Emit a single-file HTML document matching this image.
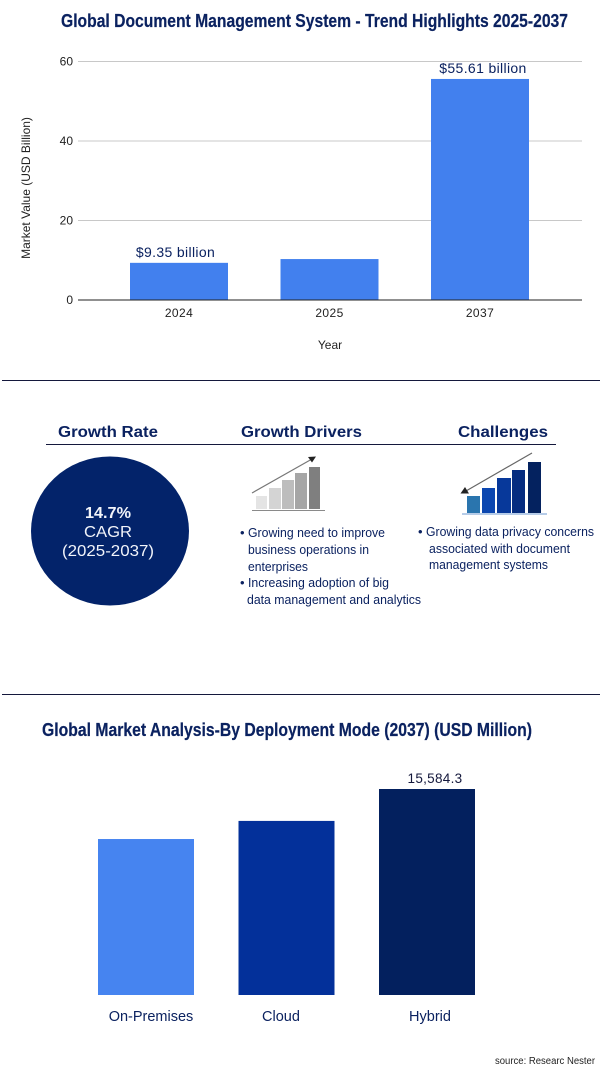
<!DOCTYPE html>
<html lang="en">
<head>
<meta charset="utf-8">
<title>Global Document Management System - Trend Highlights 2025-2037</title>
<style>
html,body{margin:0;padding:0;background:#fff;width:600px;height:1073px;overflow:hidden}
svg{display:block}
text{font-family:"Liberation Sans",Arial,sans-serif}
.navy{fill:#0b2260}
.head{font-weight:bold;font-size:16px;fill:#0b2260}
.title{font-weight:bold;font-size:18px;fill:#0b2260;stroke:#0b2260;stroke-width:.2px}
.body{font-size:13px;fill:#0b2260}
.tick{font-size:12px;fill:#222}
</style>
</head>
<body>
<svg id="page" xmlns="http://www.w3.org/2000/svg" width="600" height="1073" viewBox="0 0 600 1073">
  <rect x="0" y="0" width="600" height="1073" fill="#fff"/>
  <text class="title" x="61" y="27" textLength="507" lengthAdjust="spacingAndGlyphs">Global Document Management System - Trend Highlights 2025-2037</text>
  <g id="trend-chart"></g>

  <line x1="2" x2="600" y1="380.5" y2="380.5" stroke="#14183c" stroke-width="1"/>

  <text class="head" x="58" y="437" textLength="100" lengthAdjust="spacingAndGlyphs">Growth Rate</text>
  <text class="head" x="241" y="437" textLength="121" lengthAdjust="spacingAndGlyphs">Growth Drivers</text>
  <text class="head" x="458" y="437" textLength="90" lengthAdjust="spacingAndGlyphs">Challenges</text>
  <line x1="46" x2="556" y1="444.5" y2="444.5" stroke="#14183c" stroke-width="1"/>

  <ellipse cx="110" cy="531" rx="79" ry="74.5" fill="#03236a"/>
  <text x="85" y="518" font-size="16" font-weight="bold" fill="#f2f4fa" textLength="46" lengthAdjust="spacingAndGlyphs">14.7%</text>
  <text x="84" y="537" font-size="16" fill="#f2f4fa" textLength="48" lengthAdjust="spacingAndGlyphs">CAGR</text>
  <text x="62" y="556" font-size="16" fill="#f2f4fa" textLength="92" lengthAdjust="spacingAndGlyphs">(2025-2037)</text>

  <g>
    <rect x="256" y="496" width="11" height="13" fill="#e4e4e4"/>
    <rect x="269" y="488" width="12" height="21" fill="#d4d4d4"/>
    <rect x="282" y="480" width="12" height="29" fill="#bdbdbd"/>
    <rect x="295" y="473" width="12" height="36" fill="#a6a6a6"/>
    <rect x="309" y="467" width="11" height="42" fill="#7f7f7f"/>
    <line x1="252" x2="325" y1="510.5" y2="510.5" stroke="#8a8a8a" stroke-width="1"/>
    <line x1="252" y1="493" x2="312" y2="459" stroke="#777" stroke-width="1.2"/>
    <polygon points="316,456.500 308,457 312,462.500" fill="#222"/>
  </g>
  <g>
    <rect x="467" y="496" width="13" height="17" fill="#2a75ae"/>
    <rect x="482" y="488" width="13" height="25" fill="#0b46b0"/>
    <rect x="497" y="478" width="14" height="35" fill="#07389a"/>
    <rect x="512" y="470" width="13" height="43" fill="#052c80"/>
    <rect x="528" y="462" width="13" height="51" fill="#04225f"/>
    <line x1="462" x2="547" y1="514" y2="514" stroke="#9dbbe0" stroke-width="1.5"/>
    <line x1="532" y1="453" x2="466" y2="491" stroke="#666" stroke-width="1.2"/>
    <polygon points="460.500,493.500 469,493.500 465,487" fill="#222"/>
  </g>

  <g>
    <text class="body" x="240" y="537">•</text>
    <text class="body" x="248" y="537" textLength="137" lengthAdjust="spacingAndGlyphs">Growing need to improve</text>
    <text class="body" x="248" y="554" textLength="121" lengthAdjust="spacingAndGlyphs">business operations in</text>
    <text class="body" x="248" y="571" textLength="60" lengthAdjust="spacingAndGlyphs">enterprises</text>
    <text class="body" x="240" y="587">•</text>
    <text class="body" x="248" y="587" textLength="141" lengthAdjust="spacingAndGlyphs">Increasing adoption of big</text>
    <text class="body" x="247" y="604" textLength="174" lengthAdjust="spacingAndGlyphs">data management and analytics</text>
  </g>
  <g>
    <text class="body" x="418" y="536">•</text>
    <text class="body" x="426" y="536" textLength="168" lengthAdjust="spacingAndGlyphs">Growing data privacy concerns</text>
    <text class="body" x="429" y="553" textLength="141" lengthAdjust="spacingAndGlyphs">associated with document</text>
    <text class="body" x="429" y="569" textLength="119" lengthAdjust="spacingAndGlyphs">management systems</text>
  </g>

  <line x1="2" x2="600" y1="694.5" y2="694.5" stroke="#14183c" stroke-width="1"/>

  <text class="title" x="42" y="736" textLength="490" lengthAdjust="spacingAndGlyphs">Global Market Analysis-By Deployment Mode (2037) (USD Million)</text>
  <g id="deployment-chart"></g>

  <text x="495" y="1064" font-size="10" fill="#222" textLength="100" lengthAdjust="spacingAndGlyphs">source: Researc Nester</text>
</svg>
<script>
var trendYears = ['2024', '2025', '2037'];
var trendValues = [9.35, 10.3, 55.61];
var trendLabels = ['$9.35 billion', '', '$55.61 billion'];
var trendTicks = [0, 20, 40, 60];

var deploymentCategories = ['On-Premises', 'Cloud', 'Hybrid'];
var deploymentValues = [11800, 13170, 15584.3];
var deploymentLabels = ['', '', '15,584.3'];
var deploymentColors = ['#4684f0', '#03309a', '#03205e'];

var NS = 'http://www.w3.org/2000/svg';
function make(parent, tag, props, content) {
  var el = document.createElementNS(NS, tag);
  for (var k in props) el.setAttribute(k, props[k]);
  if (content !== undefined) el.textContent = content;
  parent.appendChild(el);
  return el;
}

/* Trend chart */
(function () {
  var g = document.getElementById('trend-chart');
  var left = 78, right = 582;
  function yScale(v) { return 300 - v * (300 - 61.5) / 60; }
  function xCenter(i) { return 179 + i * 150.5; }
  /* Printed labels sit slightly off-centre: first left of its bar, later ones right. */
  function labelX(i) { return xCenter(i) + (i === 0 ? -3.5 : 3); }
  var barWidth = 98;

  trendTicks.forEach(function (t) {
    if (t !== 0) {
      var grid = make(g, 'line', {x1: left, x2: right, y1: yScale(t), y2: yScale(t), stroke: '#c8c8c8', 'stroke-width': 1});
      
      
    }
    var label = make(g, 'text', {x: 73, y: yScale(t) + 4, 'text-anchor': 'end', 'class': 'tick'}, String(t));
    
    
  });

  trendValues.forEach(function (v, i) {
    var top = yScale(v);
    var bar = make(g, 'rect', {x: xCenter(i) - barWidth / 2, y: top, width: barWidth, height: 300 - top, fill: '#4280ee'});
    
    
    var tick = make(g, 'text', {x: xCenter(i), y: 317, 'text-anchor': 'middle', 'class': 'tick', 'letter-spacing': '0.4'}, trendYears[i]);
    
    
    if (trendLabels[i]) {
      var val = make(g, 'text', {x: labelX(i), y: top - 6, 'text-anchor': 'middle', 'font-size': 14, 'letter-spacing': '0.35', 'class': 'navy'}, trendLabels[i]);
      
      
    }
  });

  var axis = make(g, 'line', {x1: left, x2: right, y1: 300, y2: 300, stroke: '#222', 'stroke-width': 1});
  
  

  var xTitle = make(g, 'text', {x: 330, y: 349, 'text-anchor': 'middle', 'class': 'tick'}, 'Year');
  
  

  var yTitle = make(g, 'text', {x: 0, y: 0, 'text-anchor': 'middle', 'class': 'tick', transform: 'translate(30,188) rotate(-90)'}, 'Market Value (USD Billion)');
  
  
})();

/* Deployment chart */
(function () {
  var g = document.getElementById('deployment-chart');
  var base = 995;
  function yScale(v) { return base - v * 206 / 15584.3; }
  function xCenter(i) { return 146 + i * 140.5; }
  /* Category captions are offset from their bars: right, left, then right. */
  function categoryX(i) { return xCenter(i) + (i === 1 ? -5.5 : 3 + i * 0.5 - (i ? 1 : -2)); }
  var barWidth = 96;

  deploymentValues.forEach(function (v, i) {
    var top = yScale(v);
    var bar = make(g, 'rect', {x: xCenter(i) - barWidth / 2, y: top, width: barWidth, height: base - top, fill: deploymentColors[i]});
    
    
    var cat = make(g, 'text', {x: categoryX(i), y: 1021, 'text-anchor': 'middle', 'font-size': 14.5, 'class': 'navy'}, deploymentCategories[i]);
    
    
    if (deploymentLabels[i]) {
      var val = make(g, 'text', {x: xCenter(i) + 8, y: top - 6, 'text-anchor': 'middle', 'font-size': 13.5, 'letter-spacing': '0.3', fill: '#14183c'}, deploymentLabels[i]);
      
      
    }
  });
})();
</script>
</body>
</html>
